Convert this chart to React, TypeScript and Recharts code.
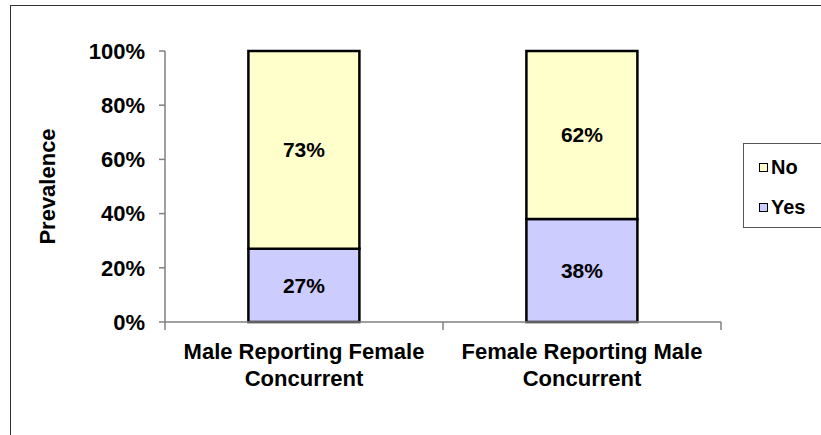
import React from "react"
import { Bar, BarChart, XAxis, YAxis, Legend, LabelList } from "recharts"

const categories = ["Male Reporting Female|Concurrent", "Female Reporting Male|Concurrent"]
const yesValues = [27, 38]
const noValues = [73, 62]
const yTicks = [0, 20, 40, 60, 80, 100]
const legendOrder = ["No", "Yes"]

const data = categories.map((name, i) => ({ name, yes: yesValues[i], no: noValues[i] }))

const FONT = "Arial, 'Liberation Sans', sans-serif"

// two-line category label + tick marks on the category boundaries
const CategoryTick = (props: any) => {
    const { x, y, payload, index, visibleTicksCount } = props
    const half = payload.offset ?? 139
    const lines = String(payload.value).split("|")
    return (
        <g>
            <line x1={x - half} x2={x - half} y1={y - 8} y2={y} stroke="#808080" strokeWidth={1.5} />
            {index === visibleTicksCount - 1 && (
                <line x1={x + half} x2={x + half} y1={y - 8} y2={y} stroke="#808080" strokeWidth={1.5} />
            )}
            <text x={x} y={y + 29} textAnchor="middle" fontFamily={FONT} fontWeight="bold" fontSize={22} fill="#000">
                {lines.map((l, i) => (
                    <tspan key={i} x={x} dy={i === 0 ? 0 : 27}>{l}</tspan>
                ))}
            </text>
        </g>
    )
}

const renderLegend = (props: any) => {
    const items = [...(props.payload || [])].sort(
        (a: any, b: any) => legendOrder.indexOf(a.value) - legendOrder.indexOf(b.value)
    )
    return (
        <div style={{ border: "1.5px solid #555", width: 100, height: 85, boxSizing: "border-box", paddingTop: 3, paddingLeft: 15, background: "#fff" }}>
            {items.map((it: any) => (
                <div key={it.value} style={{ display: "flex", alignItems: "center", height: 40 }}>
                    <span style={{ width: 7, height: 7, border: "1.5px solid #000", background: it.color, display: "inline-block", marginRight: 3 }} />
                    <span style={{ fontFamily: FONT, fontWeight: "bold", fontSize: 20, color: "#000", lineHeight: "20px" }}>{it.value}</span>
                </div>
            ))}
        </div>
    )
}

export default function App() {
    return (
        <div style={{ position: "absolute", left: 0, top: 0, width: 821, height: 435, overflow: "hidden", background: "#fff" }}>
            <div style={{ position: "absolute", left: 10, top: 5, width: 900, height: 600, border: "1.5px solid #333" }} />
            <BarChart
                width={821}
                height={435}
                data={data}
                margin={{ top: 51, right: 100, bottom: 53, left: 15 }}
                barCategoryGap="30%"
                style={{ position: "absolute", left: 0, top: 0 }}
            >
                <XAxis
                    dataKey="name"
                    height={60}
                    tickLine={false}
                    axisLine={{ stroke: "#808080", strokeWidth: 1.5 }}
                    tick={<CategoryTick />}
                    interval={0}
                />
                <YAxis
                    width={150}
                    domain={[0, 100]}
                    ticks={yTicks}
                    tickFormatter={(v) => `${v}%`}
                    tickSize={6}
                    tickMargin={14}
                    tickLine={{ stroke: "#808080", strokeWidth: 1.5 }}
                    axisLine={{ stroke: "#808080", strokeWidth: 1.5 }}
                    tick={{ fontFamily: FONT, fontWeight: "bold", fontSize: 22, fill: "#000" }}
                    label={({ viewBox }: any) => (
                        <text
                            x={47}
                            y={viewBox.y + viewBox.height / 2}
                            transform={`rotate(-90, 47, ${viewBox.y + viewBox.height / 2})`}
                            textAnchor="middle"
                            dominantBaseline="central"
                            fontFamily={FONT}
                            fontWeight="bold"
                            fontSize={22}
                            fill="#000"
                        >
                            Prevalence
                        </text>
                    )}
                />
                <Legend
                    layout="vertical"
                    align="center"
                    verticalAlign="middle"
                    content={renderLegend}
                    wrapperStyle={{ left: 743, top: 143, width: 100 }}
                />
                <Bar dataKey="yes" name="Yes" stackId="a" fill="#CCCCFF" stroke="#000" strokeWidth={2.5} isAnimationActive={false}>
                    <LabelList dataKey="yes" position="center" formatter={(v: any) => `${v}%`} style={{ fontFamily: FONT, fontWeight: "bold", fontSize: 21, fill: "#000" }} />
                </Bar>
                <Bar dataKey="no" name="No" stackId="a" fill="#FFFFCC" stroke="#000" strokeWidth={2.5} isAnimationActive={false}>
                    <LabelList dataKey="no" position="center" formatter={(v: any) => `${v}%`} style={{ fontFamily: FONT, fontWeight: "bold", fontSize: 21, fill: "#000" }} />
                </Bar>
            </BarChart>
        </div>
    )
}
